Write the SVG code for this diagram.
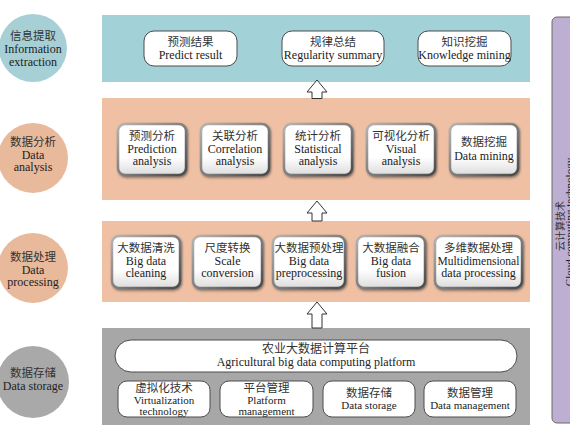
<svg xmlns="http://www.w3.org/2000/svg" width="570" height="425" viewBox="0 0 570 425">
<defs>
  <linearGradient id="fillBev" x1="0" y1="0" x2="0" y2="1">
    <stop offset="0" stop-color="#ffffff"/>
    <stop offset="0.65" stop-color="#ffffff"/>
    <stop offset="1" stop-color="#dcdcdc"/>
  </linearGradient>
  <linearGradient id="edgeBev" x1="0" y1="0" x2="1" y2="1">
    <stop offset="0" stop-color="#b4b4b4"/>
    <stop offset="1" stop-color="#4a4a4a"/>
  </linearGradient>
  <filter id="sh" x="-10%" y="-10%" width="130%" height="130%">
    <feDropShadow dx="1" dy="1.5" stdDeviation="0.8" flood-color="#333333" flood-opacity="0.6"/>
  </filter>
</defs>
<style>
  text { font-family: "Liberation Serif", "Noto Sans CJK SC", serif; fill: #222222; text-anchor: middle; }
  .t12 { font-size: 12px; }
  .t11 { font-size: 11px; }
  .zh { font-size: 11.5px; fill: #333333; }
  .band1 { fill: #a3d1d8; }
  .band2 { fill: #efc0a4; }
  .band4 { fill: #a7a7a7; }
  .c1 { fill: #a6d0d6; }
  .c2 { fill: #e8b99b; }
  .c4 { fill: #a9a9a9; }
  .plain { fill: #ffffff; stroke: #4d4d4d; stroke-width: 1; }
  .bev { fill: url(#fillBev); stroke: url(#edgeBev); stroke-width: 2.5; filter: url(#sh); }
  .arrow { fill: #ffffff; stroke: #333333; stroke-width: 1; }
  .cloud { fill: #bdafd1; stroke: #6a6a6a; stroke-width: 1; }
</style>

<!-- bands -->
<g id="bands">
  <rect class="band1" x="102" y="15" width="428" height="67"/>
  <rect class="band2" x="102" y="98" width="428" height="102"/>
  <rect class="band2" x="102" y="221" width="428" height="81"/>
  <rect class="band4" x="102" y="328" width="428" height="97"/>
</g>

<!-- layer labels -->
<g id="layer-info">
  <circle class="c1" cx="33" cy="48" r="34"/>
  <text class="zh" x="33" y="40">信息提取</text>
  <text class="t12" x="33" y="53">Information</text>
  <text class="t12" x="33" y="66">extraction</text>
</g>
<g id="layer-analysis">
  <circle class="c2" cx="33" cy="158" r="35"/>
  <text class="zh" x="33" y="146">数据分析</text>
  <text class="t12" x="33" y="158.5">Data</text>
  <text class="t12" x="33" y="171">analysis</text>
</g>
<g id="layer-processing">
  <circle class="c2" cx="33" cy="268" r="35"/>
  <text class="zh" x="33" y="261">数据处理</text>
  <text class="t12" x="33" y="273.5">Data</text>
  <text class="t12" x="33" y="286">processing</text>
</g>
<g id="layer-storage">
  <circle class="c4" cx="33" cy="382" r="36"/>
  <text class="zh" x="33" y="377">数据存储</text>
  <text class="t12" x="33" y="390">Data storage</text>
</g>

<!-- top row -->
<g id="predict-result">
  <rect class="plain" x="144" y="31" width="93" height="35" rx="10"/>
  <text class="zh" x="190.5" y="45.5">预测结果</text>
  <text class="t12" x="190.5" y="58.5">Predict result</text>
</g>
<g id="regularity-summary">
  <rect class="plain" x="282" y="31" width="102" height="35" rx="10"/>
  <text class="zh" x="333" y="45.5">规律总结</text>
  <text class="t12" x="333" y="58.5">Regularity summary</text>
</g>
<g id="knowledge-mining">
  <rect class="plain" x="418" y="31" width="93" height="35" rx="10"/>
  <text class="zh" x="464.5" y="45.5">知识挖掘</text>
  <text class="t12" x="464.5" y="58.5">Knowledge mining</text>
</g>

<!-- analysis row -->
<g id="prediction-analysis">
  <rect class="bev" x="118" y="124" width="68" height="51" rx="7"/>
  <text class="zh" x="152" y="140">预测分析</text>
  <text class="t12" x="152" y="152.5">Prediction</text>
  <text class="t12" x="152" y="165">analysis</text>
</g>
<g id="correlation-analysis">
  <rect class="bev" x="201" y="124" width="68" height="51" rx="7"/>
  <text class="zh" x="235" y="140">关联分析</text>
  <text class="t12" x="235" y="152.5">Correlation</text>
  <text class="t12" x="235" y="165">analysis</text>
</g>
<g id="statistical-analysis">
  <rect class="bev" x="284" y="124" width="68" height="51" rx="7"/>
  <text class="zh" x="318" y="140">统计分析</text>
  <text class="t12" x="318" y="152.5">Statistical</text>
  <text class="t12" x="318" y="165">analysis</text>
</g>
<g id="visual-analysis">
  <rect class="bev" x="367" y="124" width="68" height="51" rx="7"/>
  <text class="zh" x="401" y="140">可视化分析</text>
  <text class="t12" x="401" y="152.5">Visual</text>
  <text class="t12" x="401" y="165">analysis</text>
</g>
<g id="data-mining">
  <rect class="bev" x="450" y="124" width="68" height="51" rx="7"/>
  <text class="zh" x="484" y="146">数据挖掘</text>
  <text class="t12" x="484" y="159.5">Data mining</text>
</g>

<!-- processing row -->
<g id="big-data-cleaning">
  <rect class="bev" x="112" y="236" width="68" height="52" rx="7"/>
  <text class="zh" x="146" y="252">大数据清洗</text>
  <text class="t12" x="146" y="264.5">Big data</text>
  <text class="t12" x="146" y="277">cleaning</text>
</g>
<g id="scale-conversion">
  <rect class="bev" x="193" y="236" width="69" height="52" rx="7"/>
  <text class="zh" x="227.5" y="252">尺度转换</text>
  <text class="t12" x="227.5" y="264.5">Scale</text>
  <text class="t12" x="227.5" y="277">conversion</text>
</g>
<g id="big-data-preprocessing">
  <rect class="bev" x="273" y="236" width="72" height="52" rx="7"/>
  <text class="zh" x="309" y="252">大数据预处理</text>
  <text class="t12" x="309" y="264.5">Big data</text>
  <text class="t12" x="309" y="277">preprocessing</text>
</g>
<g id="big-data-fusion">
  <rect class="bev" x="357" y="236" width="68" height="52" rx="7"/>
  <text class="zh" x="391" y="252">大数据融合</text>
  <text class="t12" x="391" y="264.5">Big data</text>
  <text class="t12" x="391" y="277">fusion</text>
</g>
<g id="multidimensional-processing">
  <rect class="bev" x="435" y="236" width="87" height="52" rx="7"/>
  <text class="zh" x="478.5" y="252">多维数据处理</text>
  <text class="t12" x="478.5" y="264.5" style="font-size:11.5px">Multidimensional</text>
  <text class="t12" x="478.5" y="277">data processing</text>
</g>

<!-- storage layer -->
<g id="computing-platform">
  <rect class="plain" x="115" y="340" width="402" height="32" rx="16"/>
  <text class="zh" x="316" y="352.5" style="font-size:12px">农业大数据计算平台</text>
  <text class="t12" x="316" y="366">Agricultural big data computing platform</text>
</g>
<g id="virtualization">
  <rect class="plain" x="118" y="381" width="92" height="36" rx="9"/>
  <text class="zh" x="164" y="391.5">虚拟化技术</text>
  <text class="t11" x="164" y="403.5">Virtualization</text>
  <text class="t11" x="164" y="415">technology</text>
</g>
<g id="platform-management">
  <rect class="plain" x="220" y="381" width="93" height="36" rx="9"/>
  <text class="zh" x="266.5" y="391.5">平台管理</text>
  <text class="t11" x="266.5" y="403.5">Platform</text>
  <text class="t11" x="266.5" y="415">management</text>
</g>
<g id="data-storage">
  <rect class="plain" x="323" y="381" width="92" height="36" rx="9"/>
  <text class="zh" x="369" y="396.5">数据存储</text>
  <text class="t11" x="369" y="409">Data storage</text>
</g>
<g id="data-management">
  <rect class="plain" x="424" y="381" width="92" height="36" rx="9"/>
  <text class="zh" x="470" y="396.5">数据管理</text>
  <text class="t11" x="470" y="409">Data management</text>
</g>

<!-- cloud computing side bar -->
<g id="cloud-computing">
  <rect class="cloud" x="552" y="17" width="30" height="406" rx="5"/>
  <text class="zh" transform="translate(564,226) rotate(-90)" style="font-size:10px">云计算技术</text>
  <text class="t11" transform="translate(573,222) rotate(-90)">Cloud computing technology</text>
</g>

<!-- connectors -->
<g id="connectors">
  <path class="arrow" d="M317,80 L327,92 L322,92 L322,98.5 L312,98.5 L312,92 L307,92 Z"/>
  <path class="arrow" d="M317,201 L327,213 L322,213 L322,221 L312,221 L312,213 L307,213 Z"/>
  <path class="arrow" d="M317,302 L327,314 L322,314 L322,328 L312,328 L312,314 L307,314 Z"/>
</g>
</svg>
